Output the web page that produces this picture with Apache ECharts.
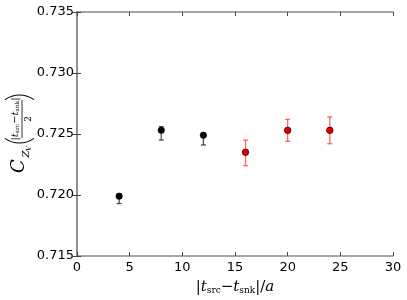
<!DOCTYPE html>
<html>
<head>
<meta charset="utf-8">
<script src="https://cdn.jsdelivr.net/npm/echarts@6/dist/echarts.min.js"></script>
<style>html,body{margin:0;padding:0;background:#fff;}#c{width:407px;height:300px;}</style>
</head>
<body>
<div id="c"></div>
<script>
// Data
var blackX = [4, 8, 12];
var blackY = [0.7199, 0.7253, 0.7249];
var blackLo = [0.7193, 0.7245, 0.7241];
var blackHi = [0.7201, 0.7256, 0.7250];

var redX = [16, 20, 24];
var redY = [0.7235, 0.7253, 0.7253];
var redLo = [0.7224, 0.7244, 0.7242];
var redHi = [0.7245, 0.7262, 0.7264];

var xTicks = [0, 5, 10, 15, 20, 25, 30];
var yTicks = [0.715, 0.720, 0.725, 0.730, 0.735];

function pts(xs, ys) { return xs.map(function (x, i) { return [x, ys[i]]; }); }
function errs(xs, lo, hi) { return xs.map(function (x, i) { return [x, lo[i], hi[i]]; }); }

function errRender(color, w) {
  return function (params, api) {
    var x = api.value(0);
    var p1 = api.coord([x, api.value(1)]);
    var p2 = api.coord([x, api.value(2)]);
    var hw = 2.5;
    var st = { stroke: color, lineWidth: w };
    return {
      type: 'group',
      children: [
        { type: 'line', shape: { x1: p1[0], y1: p1[1], x2: p2[0], y2: p2[1] }, style: st },
        { type: 'line', shape: { x1: p1[0] - hw, y1: p1[1], x2: p1[0] + hw, y2: p1[1] }, style: st },
        { type: 'line', shape: { x1: p2[0] - hw, y1: p2[1], x2: p2[0] + hw, y2: p2[1] }, style: st }
      ]
    };
  };
}

var tickCol = '#444';
var lineCol = '#888';
var serif = 'DejaVu Serif';

var chart = echarts.init(document.getElementById('c'), null, { renderer: 'canvas' });

var xAxisBase = {
  type: 'value', min: xTicks[0], max: xTicks[xTicks.length - 1], interval: 5,
  splitLine: { show: false },
  axisLine: { show: true, lineStyle: { color: lineCol, width: 1.5 } },
  axisTick: { show: true, inside: true, length: 4, lineStyle: { color: tickCol } }
};
var yAxisBase = {
  type: 'value', min: yTicks[0], max: yTicks[yTicks.length - 1], interval: 0.005,
  splitLine: { show: false },
  axisLine: { show: true, lineStyle: { color: lineCol, width: 1.5 } },
  axisTick: { show: true, inside: true, length: 4, lineStyle: { color: tickCol } }
};

var option = {
  animation: false,
  backgroundColor: '#fff',
  grid: { left: 77, right: 14, top: 12, bottom: 44, containLabel: false },
  xAxis: [
    Object.assign({}, xAxisBase, {
      position: 'bottom',
      axisLabel: { color: '#000', fontSize: 13, fontFamily: 'DejaVu Sans', margin: 5 },
      name: '|{i|t}{s|src}\u2212{i|t}{s|snk}|/{i|a}',
      nameLocation: 'middle', nameGap: 23,
      nameTextStyle: {
        color: '#000', fontSize: 15, fontFamily: serif,
        rich: {
          i: { fontStyle: 'italic', fontSize: 15, fontFamily: serif, color: '#000' },
          s: { fontSize: 9, fontFamily: serif, color: '#000', padding: [7, 0, 0, 0] }
        }
      }
    }),
    Object.assign({}, xAxisBase, { position: 'top', axisLabel: { show: false } })
  ],
  yAxis: [
    Object.assign({}, yAxisBase, {
      position: 'left',
      axisLabel: {
        color: '#000', fontSize: 13, fontFamily: 'DejaVu Sans', margin: 3,
        formatter: function (v) { return v.toFixed(3); }
      }
    }),
    Object.assign({}, yAxisBase, { position: 'right', axisLabel: { show: false } })
  ],
  graphic: [{
    type: 'group', x: 22, y: 130, rotation: Math.PI / 2,
    children: [
      { type: 'text', x: -36, y: -3, style: { text: 'C', fontSize: 18, fontStyle: 'italic', fontFamily: serif, fill: '#000', align: 'center', verticalAlign: 'middle' } },
      { type: 'text', x: -24, y: 4, style: { text: 'Z', fontSize: 10, fontStyle: 'italic', fontFamily: serif, fill: '#000', align: 'center', verticalAlign: 'middle' } },
      { type: 'text', x: -18.5, y: 7.5, style: { text: 'V', fontSize: 7, fontStyle: 'italic', fontFamily: serif, fill: '#000', align: 'center', verticalAlign: 'middle' } },
      { type: 'arc', shape: { cx: 12, cy: -2.5, r: 25, startAngle: Math.PI - 0.62, endAngle: Math.PI + 0.62, clockwise: true }, style: { stroke: '#000', lineWidth: 1.1, fill: null } },
      { type: 'arc', shape: { cx: 10, cy: -2.5, r: 25, startAngle: -0.62, endAngle: 0.62, clockwise: true }, style: { stroke: '#000', lineWidth: 1.1, fill: null } },
      { type: 'text', x: 11, y: -7, style: {
          text: '|{i|t}{s|src}\u2212{i|t}{s|snk}|', fontSize: 10, fontFamily: serif, fill: '#000', align: 'center', verticalAlign: 'middle',
          rich: { i: { fontStyle: 'italic', fontSize: 10, fontFamily: serif, fill: '#000' }, s: { fontSize: 6, fontFamily: serif, fill: '#000', padding: [5, 0, 0, 0] } }
        } },
      { type: 'line', shape: { x1: -8, y1: 0, x2: 30, y2: 0 }, style: { stroke: '#000', lineWidth: 0.8 } },
      { type: 'text', x: 11, y: 7, style: { text: '2', fontSize: 9, fontFamily: serif, fill: '#000', align: 'center', verticalAlign: 'middle' } }
    ]
  }],
  series: [
    {
      type: 'custom', name: 'blackErr', xAxisIndex: 0, yAxisIndex: 0, z: 2,
      renderItem: errRender('rgba(50,50,50,0.85)', 1.3),
      encode: { x: 0, y: [1, 2] },
      data: errs(blackX, blackLo, blackHi)
    },
    {
      type: 'custom', name: 'redErr', xAxisIndex: 0, yAxisIndex: 0, z: 2,
      renderItem: errRender('rgba(255,40,40,0.7)', 1.3),
      encode: { x: 0, y: [1, 2] },
      data: errs(redX, redLo, redHi)
    },
    {
      type: 'scatter', name: 'black', xAxisIndex: 0, yAxisIndex: 0, z: 3,
      symbol: 'circle', symbolSize: 6.5,
      itemStyle: { color: '#000', borderColor: '#000', borderWidth: 0.5, opacity: 1 },
      data: pts(blackX, blackY)
    },
    {
      type: 'scatter', name: 'red', xAxisIndex: 0, yAxisIndex: 0, z: 3,
      symbol: 'circle', symbolSize: 6.5,
      itemStyle: { color: '#dd0000', borderColor: '#400000', borderWidth: 0.8, opacity: 1 },
      data: pts(redX, redY)
    }
  ]
};
chart.setOption(option);
</script>
</body>
</html>
